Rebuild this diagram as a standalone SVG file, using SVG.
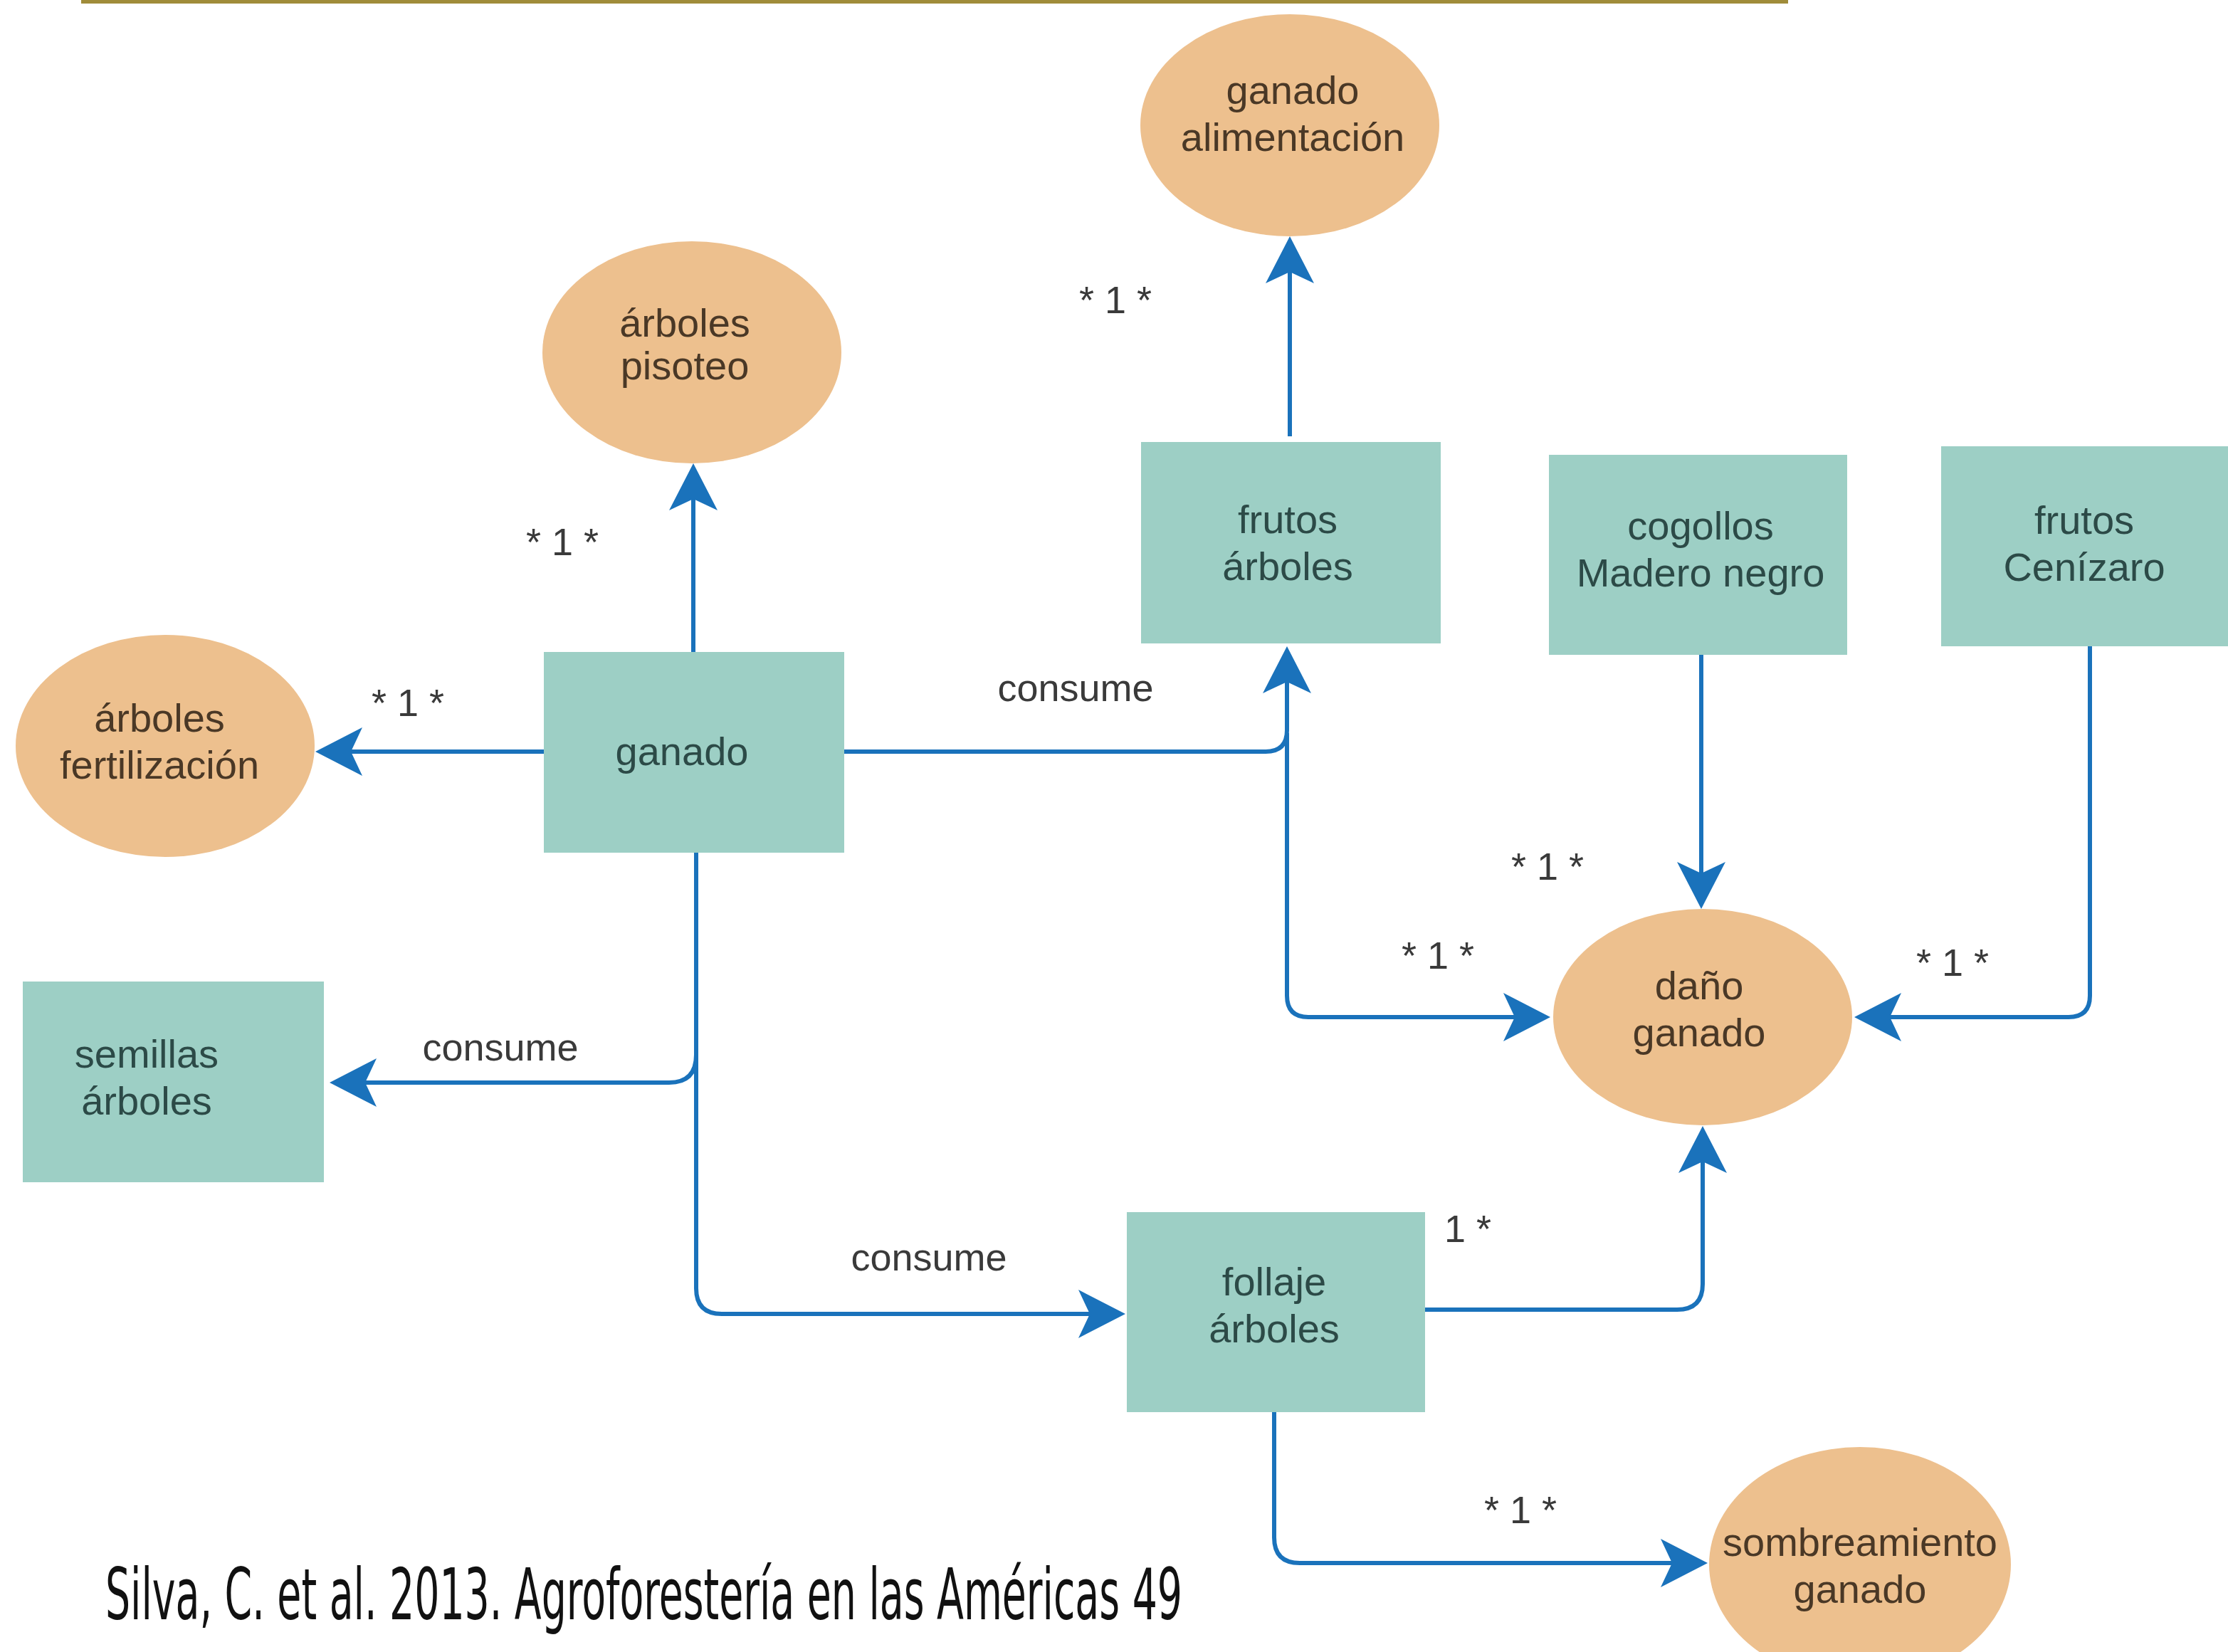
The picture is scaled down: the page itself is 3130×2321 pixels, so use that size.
<svg xmlns="http://www.w3.org/2000/svg" width="3130" height="2321" viewBox="0 0 3130 2321">
<style>
.box{fill:#9dcfc5}
.ell{fill:#edc08e}
.tb{font-family:"Liberation Sans",Arial,sans-serif;font-size:56px;fill:#2c4a47;text-anchor:middle}
.te{font-family:"Liberation Sans",Arial,sans-serif;font-size:56px;fill:#4a3826;text-anchor:middle}
.lbl{font-family:"Liberation Sans",Arial,sans-serif;font-size:54px;fill:#3a3a3a;text-anchor:middle}
.con{fill:none;stroke:#1a72bb;stroke-width:6}
.cite{font-family:"Liberation Sans Narrow","DejaVu Sans Condensed","Liberation Sans",sans-serif;font-size:100px;fill:#111}
</style>
<defs>
<marker id="ah" markerUnits="userSpaceOnUse" viewBox="0 -36 70 72" refX="16" refY="0" markerWidth="70" markerHeight="72" orient="auto" overflow="visible">
<path d="M66,0 L0,-34 L16,0 L0,34 Z" fill="#1a72bb"/>
</marker>
</defs>
<rect x="0" y="0" width="3130" height="2321" fill="#ffffff"/>
<rect x="114" y="0" width="2398" height="5" fill="#a08c3a"/>

<g id="connectors">
<path class="con" d="M1812,613 V382" marker-end="url(#ah)"/>
<path class="con" d="M974,916 V701" marker-end="url(#ah)"/>
<path class="con" d="M764,1056 H493" marker-end="url(#ah)"/>
<path class="con" d="M1186,1056 H1778 Q1808,1056 1808,1026 V958" marker-end="url(#ah)"/>
<path class="con" d="M1808,1030 V1399 Q1808,1429 1838,1429 H2128" marker-end="url(#ah)"/>
<path class="con" d="M2390,920 V1227" marker-end="url(#ah)"/>
<path class="con" d="M2936,908 V1399 Q2936,1429 2906,1429 H2655" marker-end="url(#ah)"/>
<path class="con" d="M978,1198 V1810 Q978,1846 1014,1846 H1531" marker-end="url(#ah)"/>
<path class="con" d="M978,1482 Q978,1521 940,1521 H513" marker-end="url(#ah)"/>
<path class="con" d="M2002,1840 H2356 Q2392,1840 2392,1804 V1632" marker-end="url(#ah)"/>
<path class="con" d="M1790,1984 V2160 Q1790,2196 1826,2196 H2349" marker-end="url(#ah)"/>
<text class="lbl" x="1567" y="440">* 1 *</text>
<text class="lbl" x="790" y="780">* 1 *</text>
<text class="lbl" x="573" y="1006">* 1 *</text>
<text class="lbl" x="1511" y="985">consume</text>
<text class="lbl" x="2174" y="1236">* 1 *</text>
<text class="lbl" x="2020" y="1361">* 1 *</text>
<text class="lbl" x="2743" y="1371">* 1 *</text>
<text class="lbl" x="703" y="1490">consume</text>
<text class="lbl" x="1305" y="1785">consume</text>
<text class="lbl" x="2062" y="1745">1 *</text>
<text class="lbl" x="2136" y="2140">* 1 *</text>
</g>

<g id="n-ganado-alimentacion">
<ellipse class="ell" cx="1812" cy="176" rx="210" ry="156"/>
<text class="te" x="1816" y="146">ganado</text>
<text class="te" x="1816" y="212">alimentación</text>
</g>
<g id="n-arboles-pisoteo">
<ellipse class="ell" cx="972" cy="495" rx="210" ry="156"/>
<text class="te" x="962" y="473">árboles</text>
<text class="te" x="962" y="533">pisoteo</text>
</g>
<g id="n-arboles-fertilizacion">
<ellipse class="ell" cx="232" cy="1048" rx="210" ry="156"/>
<text class="te" x="224" y="1028">árboles</text>
<text class="te" x="224" y="1094">fertilización</text>
</g>
<g id="n-ganado">
<rect class="box" x="764" y="916" width="422" height="282"/>
<text class="tb" x="958" y="1075">ganado</text>
</g>
<g id="n-frutos-arboles">
<rect class="box" x="1603" y="621" width="421" height="283"/>
<text class="tb" x="1809" y="749">frutos</text>
<text class="tb" x="1809" y="815">árboles</text>
</g>
<g id="n-cogollos">
<rect class="box" x="2176" y="639" width="419" height="281"/>
<text class="tb" x="2389" y="758">cogollos</text>
<text class="tb" x="2389" y="824">Madero negro</text>
</g>
<g id="n-frutos-cenizaro">
<rect class="box" x="2727" y="627" width="410" height="281"/>
<text class="tb" x="2928" y="750">frutos</text>
<text class="tb" x="2928" y="816">Cenízaro</text>
</g>
<g id="n-dano-ganado">
<ellipse class="ell" cx="2392" cy="1429" rx="210" ry="152"/>
<text class="te" x="2387" y="1404">daño</text>
<text class="te" x="2387" y="1470">ganado</text>
</g>
<g id="n-semillas-arboles">
<rect class="box" x="32" y="1379" width="423" height="282"/>
<text class="tb" x="206" y="1500">semillas</text>
<text class="tb" x="206" y="1566">árboles</text>
</g>
<g id="n-follaje-arboles">
<rect class="box" x="1583" y="1703" width="419" height="281"/>
<text class="tb" x="1790" y="1820">follaje</text>
<text class="tb" x="1790" y="1886">árboles</text>
</g>
<g id="n-sombreamiento">
<ellipse class="ell" cx="2613" cy="2198" rx="212" ry="165"/>
<text class="te" x="2613" y="2186">sombreamiento</text>
<text class="te" x="2613" y="2252">ganado</text>
</g>

<text class="cite" x="148" y="2275" textLength="1513" lengthAdjust="spacingAndGlyphs">Silva, C. et al. 2013. Agroforestería en las Américas 49</text>
</svg>
